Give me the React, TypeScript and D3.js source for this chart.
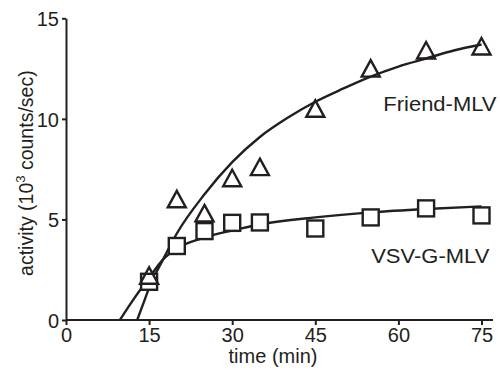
import React, { useRef, useEffect } from "react";
import * as d3 from "d3";

// measured points (time in min, activity in 10^3 counts/sec)
const times = [15, 20, 25, 30, 35, 45, 55, 65, 75];
const friendValues = [2.2, 6.0, 5.3, 7.05, 7.6, 10.5, 12.5, 13.4, 13.6];
const vsvValues = [1.9, 3.68, 4.42, 4.83, 4.85, 4.55, 5.1, 5.55, 5.2];

// fitted curves
const friendCurveT = [12.85, 14, 15, 17.5, 20, 25, 30, 35, 40, 45, 50, 55, 60, 65, 70, 75];
const friendCurveY = [0, 0.85, 1.6, 3.0, 4.3, 6.25, 7.85, 9.1, 10.05, 10.85, 11.5, 12.1, 12.6, 13.0, 13.4, 13.7];
const vsvCurveT = [9.73, 12, 15, 17.5, 20, 25, 30, 35, 45, 55, 65, 75];
const vsvCurveY = [0, 0.95, 2.1, 3.0, 3.55, 4.1, 4.45, 4.75, 5.1, 5.35, 5.52, 5.65];

const xTicks = [0, 15, 30, 45, 60, 75];
const yTicks = [0, 5, 10, 15];

const INK = "#231f20";
const FONT = "'Liberation Sans', Arial, Helvetica, sans-serif";

const App = () => {
  const svgRef = useRef<SVGSVGElement>(null);

  useEffect(() => {
    const svg = d3.select(svgRef.current);
    svg.selectAll("*").remove();

    const x = d3.scaleLinear().domain([0, 75]).range([66, 481.5]);
    const y = d3.scaleLinear().domain([0, 15]).range([320, 18.3]);

    // axes
    const xAxis = svg
      .append("g")
      .attr("transform", `translate(0,${y(0)})`)
      .call(d3.axisBottom(x).tickValues(xTicks).tickSize(5).tickPadding(3).tickSizeOuter(0));
    xAxis.select(".domain").attr("d", `M${x(0)},0H493`);

    const yAxis = svg
      .append("g")
      .attr("transform", `translate(${x(0)},0)`)
      .call(d3.axisLeft(y).tickValues(yTicks).tickSize(4).tickPadding(3).tickSizeOuter(0));

    [xAxis, yAxis].forEach((g) => {
      g.select(".domain").attr("stroke", INK).attr("stroke-width", 2);
      g.selectAll(".tick line").attr("stroke", INK).attr("stroke-width", 2);
      g.selectAll(".tick text")
        .attr("fill", INK)
        .attr("font-family", FONT)
        .attr("font-size", 20);
    });
    yAxis.selectAll(".tick text").attr("dy", "0.36em");
    xAxis.selectAll(".tick text").attr("dy", "0.72em");

    // axis titles
    svg
      .append("text")
      .attr("x", 273)
      .attr("y", 363)
      .attr("text-anchor", "middle")
      .attr("font-family", FONT)
      .attr("font-size", 20)
      .attr("fill", INK)
      .text("time (min)");

    const yLabel = svg
      .append("text")
      .attr("transform", `translate(33,${(y(0) + y(15)) / 2 + 4}) rotate(-90)`)
      .attr("text-anchor", "middle")
      .attr("font-family", FONT)
      .attr("font-size", 19.5)
      .attr("fill", INK);
    yLabel.append("tspan").text("activity (10");
    yLabel.append("tspan").attr("font-size", 13).attr("dy", -8).text("3");
    yLabel.append("tspan").attr("dy", 8).text(" counts/sec)");

    // fitted curves
    const line = d3
      .line<[number, number]>()
      .x((d) => x(d[0]))
      .y((d) => y(d[1]))
      .curve(d3.curveMonotoneX);

    const curves = [
      friendCurveT.map((t, i) => [t, friendCurveY[i]] as [number, number]),
      vsvCurveT.map((t, i) => [t, vsvCurveY[i]] as [number, number]),
    ];
    svg
      .append("g")
      .selectAll("path")
      .data(curves)
      .join("path")
      .attr("d", (d) => line(d))
      .attr("fill", "none")
      .attr("stroke", INK)
      .attr("stroke-width", 2.4);

    // markers
    const tri = (cx: number, cy: number) =>
      `M${cx},${cy - 8.5}L${cx + 9},${cy + 8}L${cx - 9},${cy + 8}Z`;

    svg
      .append("g")
      .selectAll("rect")
      .data(times.map((t, i) => ({ t, v: vsvValues[i] })))
      .join("rect")
      .attr("x", (d) => x(d.t) - 8)
      .attr("y", (d) => y(d.v) - 8)
      .attr("width", 16)
      .attr("height", 16)
      .attr("fill", "#fff")
      .attr("stroke", INK)
      .attr("stroke-width", 2.4);

    svg
      .append("g")
      .selectAll("path")
      .data(times.map((t, i) => ({ t, v: friendValues[i] })))
      .join("path")
      .attr("d", (d) => tri(x(d.t), y(d.v)))
      .attr("fill", "none")
      .attr("stroke", INK)
      .attr("stroke-width", 2.4);

    // series labels (the source type is slightly wide)
    const labels = [
      { text: "Friend-MLV", x: 496.5, y: 110.7 },
      { text: "VSV-G-MLV", x: 489.3, y: 262.7 },
    ];
    svg
      .append("g")
      .selectAll("text")
      .data(labels)
      .join("text")
      .attr("transform", (d) => `translate(${d.x},${d.y}) scale(1.1,1)`)
      .attr("text-anchor", "end")
      .attr("font-family", FONT)
      .attr("font-size", 20)
      .attr("fill", INK)
      .text((d) => d.text);
  }, []);

  return (
    <svg
      ref={svgRef}
      width={500}
      height={371}
      style={{ position: "absolute", left: 0, top: 0, background: "#fff" }}
    ></svg>
  );
};

export default App;
